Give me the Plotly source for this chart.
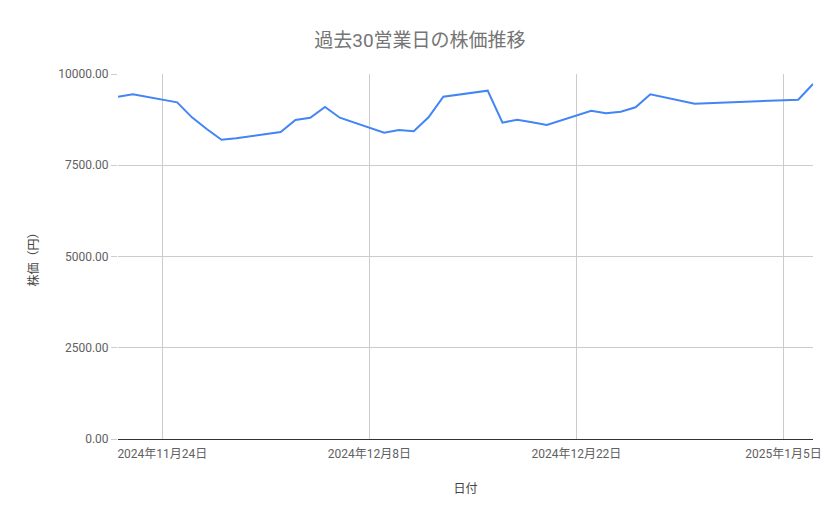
import plotly.graph_objects as go

# 過去30営業日の終値（円）
dates = [
    "2024-11-21", "2024-11-22", "2024-11-25", "2024-11-26", "2024-11-27",
    "2024-11-28", "2024-11-29", "2024-12-02", "2024-12-03", "2024-12-04",
    "2024-12-05", "2024-12-06", "2024-12-09", "2024-12-10", "2024-12-11",
    "2024-12-12", "2024-12-13", "2024-12-16", "2024-12-17", "2024-12-18",
    "2024-12-19", "2024-12-20", "2024-12-23", "2024-12-24", "2024-12-25",
    "2024-12-26", "2024-12-27", "2024-12-30", "2025-01-06", "2025-01-07",
]
prices = [
    9378, 9444, 9224, 8813, 8493,
    8200, 8238, 8411, 8740, 8803,
    9096, 8803, 8392, 8466, 8430,
    8813, 9378, 9543, 8667, 8749,
    8676, 8603, 8995, 8923, 8968,
    9088, 9444, 9187, 9297, 9726,
]

x_tick_vals = ["2024-11-24", "2024-12-08", "2024-12-22", "2025-01-05"]
x_tick_text = ["2024年11月24日", "2024年12月8日", "2024年12月22日", "2025年1月5日"]
y_tick_vals = [0, 2500, 5000, 7500, 10000]

font_family = "Roboto, 'Noto Sans CJK JP', sans-serif"

fig = go.Figure(go.Scatter(
    x=dates,
    y=prices,
    mode="lines",
    line=dict(color="#4285F4", width=2),
    showlegend=False,
))

# the page body adds an 8px offset, so margins are shifted to compensate
fig.update_layout(
    width=839,
    height=519,
    margin=dict(l=110, r=34, t=66, b=88),
    plot_bgcolor="white",
    paper_bgcolor="white",
    font=dict(family=font_family, color="#616161", size=12),
    title=dict(
        text="過去30営業日の株価推移",
        x=0.491, xanchor="center",
        y=0.938, yanchor="middle",
        font=dict(size=19, color="#757575", family=font_family),
    ),
)

fig.update_xaxes(
    type="date",
    range=["2024-11-21", "2025-01-07"],
    tickvals=x_tick_vals,
    ticktext=x_tick_text,
    showgrid=True,
    gridcolor="#cccccc",
    gridwidth=1,
    showline=False,
    ticks="outside",
    ticklen=4,
    tickcolor="rgba(0,0,0,0)",
    tickfont=dict(size=12, color="#616161"),
    title=dict(text="日付", font=dict(size=12, color="#444444"), standoff=24),
)

fig.update_yaxes(
    range=[0, 10000],
    tickvals=y_tick_vals,
    tickformat=".2f",
    showgrid=True,
    gridcolor="#cccccc",
    gridwidth=1,
    zeroline=True,
    zerolinecolor="#333333",
    zerolinewidth=1.3,
    ticks="outside",
    ticklen=6,
    tickcolor="#cccccc",
    tickfont=dict(size=12, color="#616161"),
    title=dict(text="株価（円）", font=dict(size=12, color="#444444"), standoff=17),
)

fig.write_html("out.html")
